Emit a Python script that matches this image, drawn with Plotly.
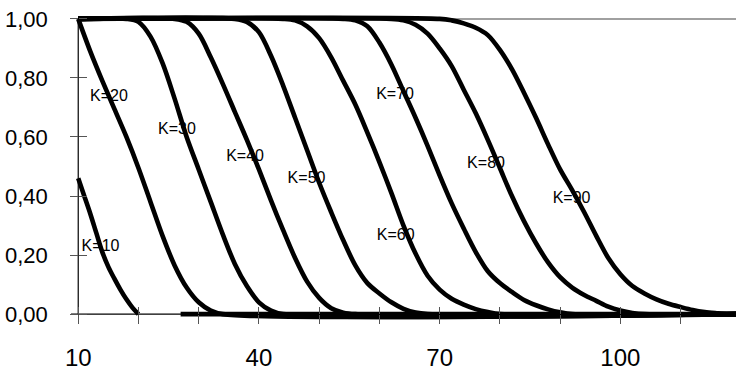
import plotly.graph_objects as go

# ---- data ----
x_k10 = [10, 11, 12, 13, 14, 15, 16, 17, 18, 19, 20, 21, 27, 120]
y_k10 = [0.46, 0.40, 0.34, 0.275, 0.21, 0.16, 0.12, 0.083, 0.05, 0.022, 0.0, None, 0.0, 0.0]

x_k20 = [10, 12, 14, 16, 18, 20, 22, 24, 26, 28, 30, 32, 34, 120]
y_k20 = [1.0, 0.89, 0.79, 0.695, 0.60, 0.495, 0.38, 0.265, 0.165, 0.09, 0.04, 0.012, 0.0, 0.0]

x_k30 = [10, 18, 20, 22, 24, 26, 28, 30, 32, 34, 36, 38, 40, 42, 44, 120]
y_k30 = [1.0, 1.0, 0.99, 0.94, 0.85, 0.73, 0.60, 0.49, 0.38, 0.27, 0.17, 0.095, 0.04, 0.012, 0.0, 0.0]

x_k40 = [10, 26, 28, 30, 32, 34, 36, 38, 40, 42, 44, 46, 48, 50, 52, 54, 56, 120]
y_k40 = [1.0, 1.0, 0.99, 0.95, 0.87, 0.78, 0.685, 0.59, 0.49, 0.385, 0.285, 0.19, 0.11, 0.055, 0.02, 0.005, 0.0, 0.0]

x_k50 = [10, 36, 38, 40, 42, 44, 46, 48, 50, 52, 54, 56, 58, 60, 62, 64, 66, 68, 120]
y_k50 = [1.0, 1.0, 0.99, 0.955, 0.875, 0.775, 0.665, 0.555, 0.445, 0.345, 0.25, 0.165, 0.105, 0.07, 0.04, 0.018, 0.005, 0.0, 0.0]

x_k60 = [10, 44, 46, 48, 50, 52, 54, 56, 58, 60, 62, 64, 66, 68, 70, 72, 74, 76, 78, 80, 120]
y_k60 = [1.0, 1.0, 0.995, 0.975, 0.935, 0.87, 0.79, 0.71, 0.615, 0.515, 0.41, 0.30, 0.205, 0.13, 0.083, 0.052, 0.032, 0.017, 0.007, 0.0, 0.0]

x_k70 = [10, 54, 56, 58, 60, 62, 64, 66, 68, 70, 72, 74, 76, 78, 80, 82, 84, 86, 88, 90, 92, 120]
y_k70 = [1.0, 1.0, 0.995, 0.975, 0.92, 0.845, 0.755, 0.665, 0.57, 0.47, 0.375, 0.29, 0.21, 0.145, 0.105, 0.075, 0.048, 0.03, 0.016, 0.006, 0.0, 0.0]

x_k80 = [10, 62, 64, 66, 68, 70, 72, 74, 76, 78, 80, 82, 84, 86, 88, 90, 92, 94, 96, 98, 100, 102, 104, 120]
y_k80 = [1.0, 1.0, 0.995, 0.98, 0.95, 0.90, 0.84, 0.76, 0.68, 0.59, 0.495, 0.40, 0.315, 0.24, 0.175, 0.125, 0.09, 0.065, 0.045, 0.025, 0.012, 0.004, 0.0, 0.0]

x_k90 = [10, 70, 72, 74, 76, 78, 80, 82, 84, 86, 88, 90, 92, 94, 96, 98, 100, 102, 104, 106, 108, 110, 112, 114, 116, 118, 120]
y_k90 = [1.0, 1.0, 0.995, 0.985, 0.97, 0.945, 0.895, 0.83, 0.75, 0.665, 0.575, 0.49, 0.42, 0.345, 0.265, 0.19, 0.135, 0.095, 0.07, 0.05, 0.035, 0.024, 0.014, 0.007, 0.003, 0.0, 0.0]

series = [
    (x_k10, y_k10), (x_k20, y_k20), (x_k30, y_k30), (x_k40, y_k40), (x_k50, y_k50),
    (x_k60, y_k60), (x_k70, y_k70), (x_k80, y_k80), (x_k90, y_k90),
]

label_text = ["K=10", "K=20", "K=30", "K=40", "K=50", "K=60", "K=70", "K=80", "K=90"]
label_x = [13.7, 15.1, 26.4, 37.7, 47.9, 62.7, 62.6, 77.7, 91.9]
label_y = [0.227, 0.736, 0.624, 0.532, 0.458, 0.264, 0.742, 0.508, 0.39]

x_tickvals = [10, 20, 30, 40, 50, 60, 70, 80, 90, 100, 110]
x_ticktext = ["10", "", "", "40", "", "", "70", "", "", "100", ""]
y_tickvals = [0.0, 0.2, 0.4, 0.6, 0.8, 1.0]
y_ticktext = ["0,00", "0,20", "0,40", "0,60", "0,80", "1,00"]

# ---- layout constants ----
FONT = "Arial, 'Liberation Sans', sans-serif"
X_RANGE = [8.8, 119.2]
Y_RANGE = [-0.02, 1.02]
X_ORIGIN = 10
xpos = (X_ORIGIN - X_RANGE[0]) / (X_RANGE[1] - X_RANGE[0])   # paper x of y-axis
ypos = (0 - Y_RANGE[0]) / (Y_RANGE[1] - Y_RANGE[0])          # paper y of x-axis
TICK_COLOR = "#555555"

fig = go.Figure()

# labels first so the curves are drawn over them
fig.add_trace(go.Scatter(
    x=label_x, y=label_y, text=label_text, mode="text",
    textfont=dict(family=FONT, size=16, color="black"),
    showlegend=False, hoverinfo="skip", cliponaxis=False,
))

for xs, ys in series:
    fig.add_trace(go.Scatter(
        x=xs, y=ys, mode="lines",
        line=dict(color="black", width=4.6, shape="spline", smoothing=0.9),
        connectgaps=False, showlegend=False, hoverinfo="skip",
    ))

# dummy trace for the overlaid axes that give the inner half of the crossing ticks
fig.add_trace(go.Scatter(x=[None], y=[None], xaxis="x2", yaxis="y2",
                         showlegend=False, hoverinfo="skip"))

fig.update_layout(
    width=736, height=370,
    margin=dict(l=71, r=0, t=13, b=50, autoexpand=False),
    paper_bgcolor="white", plot_bgcolor="white",
    font=dict(family=FONT, color="black"),
    xaxis=dict(
        range=X_RANGE, anchor="free", position=ypos, automargin=False,
        showgrid=False, zeroline=False, showline=False,
        tickmode="array", tickvals=x_tickvals, ticktext=x_ticktext,
        ticks="outside", ticklen=9, tickwidth=1, tickcolor=TICK_COLOR,
        tickfont=dict(family=FONT, size=24, color="black"),
        ticklabelstandoff=13,
    ),
    yaxis=dict(
        range=Y_RANGE, anchor="free", position=xpos, automargin=False,
        showgrid=False, zeroline=False, showline=False,
        tickmode="array", tickvals=y_tickvals, ticktext=y_ticktext,
        ticks="outside", ticklen=8, tickwidth=1, tickcolor=TICK_COLOR,
        tickfont=dict(family=FONT, size=22, color="black"),
        ticklabelstandoff=18,
    ),
    xaxis2=dict(
        range=X_RANGE, overlaying="x", anchor="free", position=ypos, automargin=False,
        showgrid=False, zeroline=False, showline=False, showticklabels=False,
        tickmode="array", tickvals=x_tickvals,
        ticks="inside", ticklen=7, tickwidth=1, tickcolor=TICK_COLOR,
    ),
    yaxis2=dict(
        range=Y_RANGE, overlaying="y", anchor="free", position=xpos, automargin=False,
        showgrid=False, zeroline=False, showline=False, showticklabels=False,
        tickmode="array", tickvals=y_tickvals,
        ticks="inside", ticklen=8, tickwidth=1, tickcolor=TICK_COLOR,
    ),
    shapes=[
        # top border at 1.00
        dict(type="line", xref="paper", yref="y", x0=xpos, x1=1, y0=1, y1=1,
             line=dict(color="#808080", width=1.5), layer="below"),
        # x axis line at y = 0
        dict(type="line", xref="paper", yref="y", x0=0, x1=1, y0=0, y1=0,
             line=dict(color="black", width=1.2), layer="below"),
        # y axis line at x = 10
        dict(type="line", xref="x", yref="y", x0=X_ORIGIN, x1=X_ORIGIN, y0=0, y1=1,
             line=dict(color="black", width=1.2), layer="below"),
    ],
)

fig.write_html("out.html", config={"displayModeBar": False},
               post_script="document.body.style.margin='0';")
